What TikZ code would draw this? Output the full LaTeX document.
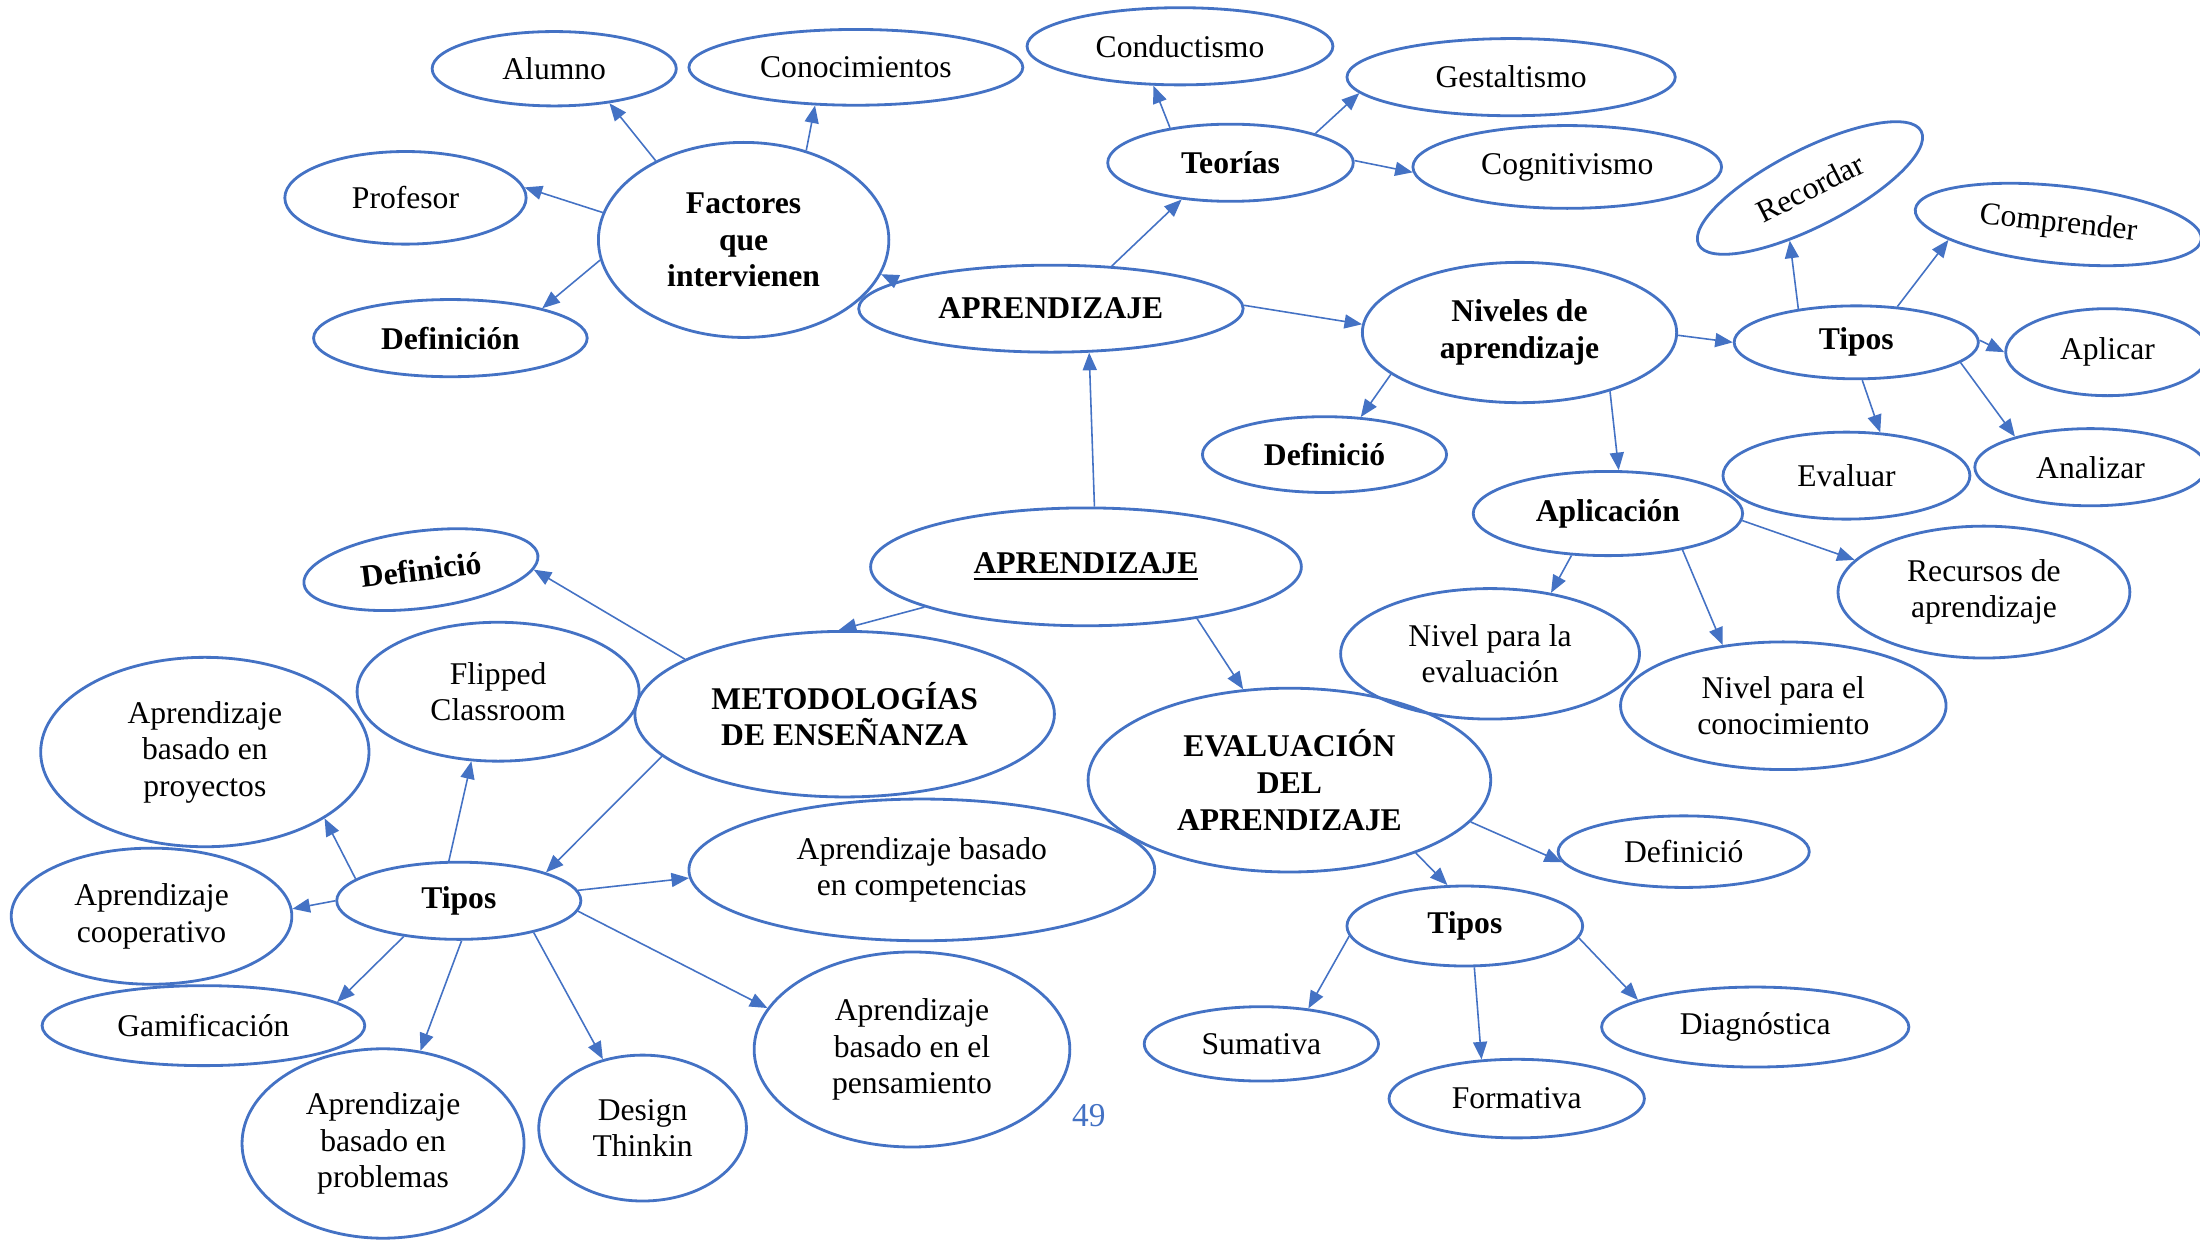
\documentclass[tikz,border=0pt]{standalone}
\usepackage{fontspec}
\setmainfont{Liberation Serif}
\usepackage{tikz}
\usetikzlibrary{arrows.meta,shapes.geometric}
\definecolor{ublue}{RGB}{68,114,196}

\begin{document}
\begin{tikzpicture}[x=0.014031cm, y=-0.014031cm, >={Triangle[length=5pt,width=4pt]},
  every node/.style={font=\fontsize{9}{10.4}\selectfont, align=center},
  bub/.style 2 args={ellipse, draw=ublue, line width=0.8pt, inner sep=0pt,
    minimum width=#1*0.014031cm, minimum height=#2*0.014031cm},
  hd/.style={font=\fontsize{9}{10.4}\selectfont\bfseries},
  arr/.style={->, color=ublue, line width=0.45pt}]
  \useasboundingbox (0,0) rectangle (1568,884);

  % Factores que intervienen
  \node[bub={207}{139}, hd] (fact) at (530,171) {Factores\\que\\intervienen};
  \node[bub={174}{53}] (alum) at (395,49) {Alumno};
  \node[bub={238}{54}] (con) at (610,48) {Conocimientos};
  \node[bub={172}{66}] (prof) at (289,141) {Profesor};
  \node[bub={195}{55}, hd] (defA) at (321,241) {Definición};

  % upper centre
  \node[bub={274}{62}, hd] (aprA) at (749,220) {APRENDIZAJE};

  % Teorias
  \node[bub={175}{55}, hd] (teo) at (877,116) {Teorías};
  \node[bub={218}{55}] (cond) at (841,33) {Conductismo};
  \node[bub={234}{55}] (gest) at (1077,55) {Gestaltismo};
  \node[bub={220}{59}] (cogn) at (1117,119) {Cognitivismo};

  % Niveles de aprendizaje
  \node[bub={224}{100}, hd] (niv) at (1083,237) {Niveles de\\aprendizaje};
  \node[bub={174}{54}, hd] (defB) at (944,324) {Definició};
  \node[bub={174}{52}, hd] (tipA) at (1323,244) {Tipos};
  \node[bub={178}{55}, rotate=27] (rec) at (1290,134) {Recordar};
  \node[bub={205}{55}, rotate=-6] (comp) at (1467,160) {Comprender};
  \node[bub={145}{62}] (apl) at (1502,251) {Aplicar};
  \node[bub={176}{62}] (eva) at (1316,339) {Evaluar};
  \node[bub={165}{55}] (ana) at (1490,333) {Analizar};

  % Aplicacion
  \node[bub={192}{60}, hd] (aplic) at (1146,366) {Aplicación};
  \node[bub={208}{94}] (recu) at (1414,422) {Recursos de\\aprendizaje};
  \node[bub={213}{93}] (nivEv) at (1062,466) {Nivel para la\\evaluación};
  \node[bub={232}{91}] (nivCo) at (1271,503) {Nivel para el\\conocimiento};

  % lower centre
  \node[bub={307}{84}, hd] (aprB) at (774,404) {\underline{APRENDIZAJE}};

  % Metodologias
  \node[bub={299}{118}, hd] (met) at (602,509) {METODOLOGÍAS\\DE ENSEÑANZA};
  \node[bub={168}{55}, hd, rotate=7] (defC) at (300,406) {Definició};
  \node[bub={174}{55}, hd] (tipB) at (327,642) {Tipos};
  \node[bub={201}{99}] (flip) at (355,493) {Flipped\\Classroom};
  \node[bub={234}{135}] (proy) at (146,536) {Aprendizaje\\basado en\\proyectos};
  \node[bub={200}{97}] (coop) at (108,653) {Aprendizaje\\cooperativo};
  \node[bub={332}{101}] (compe) at (657,620) {Aprendizaje basado\\en competencias};
  \node[bub={230}{57}] (gami) at (145,731) {Gamificación};
  \node[bub={201}{135}] (prob) at (273,815) {Aprendizaje\\basado en\\problemas};
  \node[bub={148}{104}] (desi) at (458,804) {Design\\Thinkin};
  \node[bub={225}{139}] (pens) at (650,748) {Aprendizaje\\basado en el\\pensamiento};

  % Evaluacion
  \node[bub={287}{131}, hd] (evalu) at (919,556) {EVALUACIÓN\\DEL\\APRENDIZAJE};
  \node[bub={179}{51}] (defD) at (1200,607) {Definició};
  \node[bub={168}{57}, hd] (tipC) at (1044,660) {Tipos};
  \node[bub={167}{53}] (suma) at (899,744) {Sumativa};
  \node[bub={182}{56}] (form) at (1081,783) {Formativa};
  \node[bub={219}{57}] (diag) at (1251,732) {Diagnóstica};

  % page number
  \node[text=ublue, font=\fontsize{9.5}{11}\selectfont] (pnum) at (776,795) {49};

  % connectors
  \foreach \s/\t in {138/alum.-32, 55/con.-137, 169/prof.5, -172/defA.18}
    \draw[arr] (fact.\s) -- (\t);
  \foreach \s/\t in {170/fact.-14, 35/teo.-143, 1/niv.177}
    \draw[arr] (aprA.\s) -- (\t);
  \foreach \s/\t in {150/cond.-124, 19/gest.-174, 1/cogn.-178}
    \draw[arr] (teo.\s) -- (\t);
  \foreach \s/\t in {-162/defB.46, -1/tipA.180, -33/aplic.76}
    \draw[arr] (niv.\s) -- (\t);
  \foreach \s/\t in {150/rec.-138, 41/comp.-166, 1/apl.180, -81/eva.52, -11/ana.158}
    \draw[arr] (tipA.\s) -- (\t);
  \foreach \s/\t in {-131/nivEv.45, -26/nivCo.135, -3/recu.166}
    \draw[arr] (aplic.\s) -- (\t);
  \foreach \s/\t in {82/aprA.-49, -166/met.94, -25/evalu.117}
    \draw[arr] (aprB.\s) -- (\t);
  \foreach \s/\t in {161/defC.-7, -167/tipB.18}
    \draw[arr] (met.\s) -- (\t);
  \foreach \s/\t in {104/flip.-111, 168/proy.-29, 180/coop.3, 5/compe.-178,
                     -147/gami.10, -86/prob.68, -23/desi.120, -5/pens.164}
    \draw[arr] (tipB.\s) -- (\t);
  \foreach \s/\t in {-13/defD.-175, -30/tipC.113}
    \draw[arr] (evalu.\s) -- (\t);
  \foreach \s/\t in {-175/suma.37, -77/form.132, -6/diag.167}
    \draw[arr] (tipC.\s) -- (\t);
\end{tikzpicture}
\end{document}
